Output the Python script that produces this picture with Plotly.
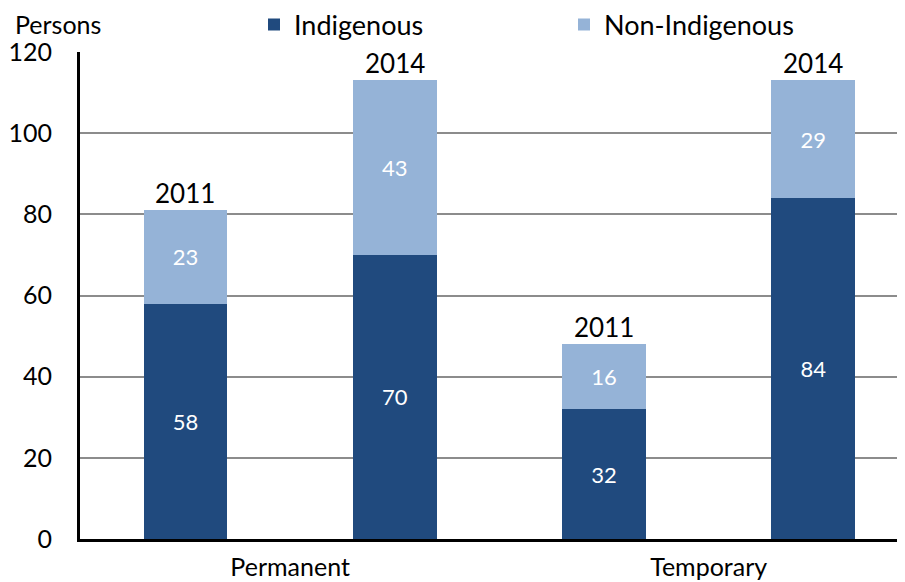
import plotly.graph_objects as go

groups = ["Permanent", "Temporary"]
years = ["2011", "2014", "2011", "2014"]
indigenous = [58, 70, 32, 84]
non_indigenous = [23, 43, 16, 29]
y_ticks = [0, 20, 40, 60, 80, 100, 120]

FONT = "Lato"
DARK = "#204A7E"
LIGHT = "#95B3D7"

# The page body has an 8px margin, so the figure is sized to the visible area.
OFF = 8
W, H = 905 - OFF, 582 - OFF
ML, MR, MT, MB = 80 - OFF, 0, 52 - OFF, 43
PH = H - MT - MB
PW = W - ML - MR

xpos = list(range(len(years)))
totals = [a + b for a, b in zip(indigenous, non_indigenous)]

fig = go.Figure()
fig.add_trace(go.Bar(
    x=xpos, y=indigenous, name="Indigenous", marker=dict(color=DARK, line=dict(width=0)),
    width=0.4, text=[str(v) for v in indigenous], textposition="inside",
    insidetextanchor="middle", textfont=dict(family=FONT, size=22, color="white"),
    hoverinfo="y", legend="legend",
))
fig.add_trace(go.Bar(
    x=xpos, y=non_indigenous, name="Non-Indigenous", marker=dict(color=LIGHT, line=dict(width=0)),
    width=0.4, text=[str(v) for v in non_indigenous], textposition="inside",
    insidetextanchor="middle", textfont=dict(family=FONT, size=22, color="white"),
    hoverinfo="y", legend="legend2",
))

for x, t, yr in zip(xpos, totals, years):
    fig.add_annotation(x=x, y=t, text=yr, showarrow=False, yanchor="bottom", yshift=-1,
                       font=dict(family=FONT, size=26, color="black"))

fig.add_annotation(xref="paper", yref="paper", x=(14 - 80) / PW, y=1 + (52 - 24) / PH,
                   xanchor="left", yanchor="middle", text="Persons", showarrow=False,
                   borderpad=0, font=dict(family=FONT, size=25, color="black"))

leg_common = dict(orientation="h", xref="container", yref="container",
                  xanchor="left", yanchor="middle", itemwidth=30,
                  font=dict(family=FONT, size=27, color="black"),
                  bgcolor="rgba(0,0,0,0)", borderwidth=0)

fig.update_layout(
    width=W, height=H,
    margin=dict(l=ML, r=MR, t=MT, b=MB, autoexpand=False),
    barmode="stack",
    plot_bgcolor="white", paper_bgcolor="white",
    font=dict(family=FONT, size=24, color="black"),
    showlegend=True,
    legend=dict(x=246 / W, y=1 - 17 / H, **leg_common),
    legend2=dict(x=556 / W, y=1 - 17 / H, **leg_common),
    xaxis=dict(range=[-0.504, 3.438], tickvals=[0.5, 2.5], ticktext=groups,
               showgrid=False, zeroline=False, showline=True, linecolor="black",
               linewidth=3, ticks="", ticklabelstandoff=4,
               tickfont=dict(family=FONT, size=25)),
    yaxis=dict(range=[0, 120], tickvals=y_ticks, showgrid=True, gridcolor="#8C8C8C",
               gridwidth=1.5, zeroline=False, showline=True, linecolor="black",
               linewidth=3, ticks="", ticklabelstandoff=20,
               tickfont=dict(family=FONT, size=25)),
)

fig.write_html("out.html")
